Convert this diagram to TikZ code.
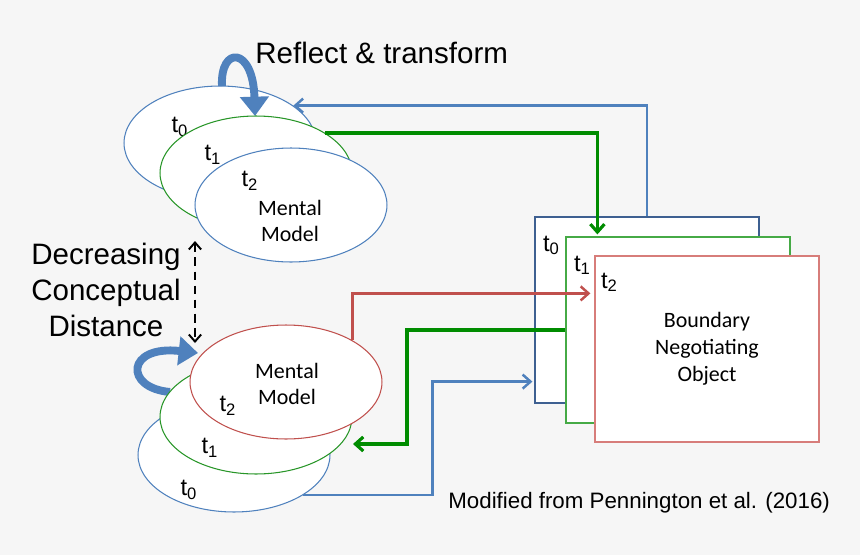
\documentclass[tikz,border=0pt]{standalone}
\usepackage{fontspec}
\setmainfont{Liberation Sans}
\newfontfamily\calibri{Carlito}
\usetikzlibrary{arrows.meta,calc,shapes.geometric,positioning,shadows}
\definecolor{bgGray}{RGB}{246,246,246}
\definecolor{offBlue}{RGB}{79,129,189}
\definecolor{boxBlue}{RGB}{62,96,145}
\definecolor{ellGreen}{RGB}{40,150,40}
\definecolor{arrGreen}{RGB}{0,140,0}
\definecolor{boxGreen}{RGB}{70,170,70}
\definecolor{offRed}{RGB}{192,80,77}
\definecolor{boxRed}{RGB}{215,125,122}
\tikzset{
    every node/.style={inner sep=0mm},
    mm/.style={ellipse, draw, fill=white, line width=0.6pt, minimum width=3.84cm, minimum height=2.28cm},
    bno/.style={rectangle, draw, fill=white, line width=0.7pt, minimum width=4.48cm, minimum height=3.72cm,
        drop shadow={shadow xshift=0.6pt, shadow yshift=-0.6pt, opacity=0.25}},
    tlab/.style={font=\fontsize{13.5}{15}\selectfont},
    mmtext/.style={align=center, font=\calibri\fontsize{12.5}{15.3}\selectfont},
    big/.style={align=center, font=\fontsize{16.8}{20.4}\selectfont},
    flow/.style={-{Straight Barb[length=4.5pt,width=8pt]}, line width=1.4pt},
    loopy/.style={-{Triangle[length=11pt,width=16pt]}, line width=4.5pt, draw=offBlue},
}

\begin{document}
\begin{tikzpicture}[x=0.02cm, y=-0.02cm]
    \fill[bgGray] (0,0) rectangle (860,555);
    \useasboundingbox (0,0) rectangle (860,555);

    \node[big, anchor=base west] (title) at (255,63) {Reflect \& transform};
    \node[big] (dist) at (106,290) {Decreasing\\Conceptual\\Distance};
    \node[font=\fontsize{12.7}{15}\selectfont, anchor=base west] (src) at (448,508) {Modified from Pennington et al. (2016)};

    % upper stack
    \node[mm, draw=offBlue] (up0) at (220,143) {};
    \node[tlab] (up0t) at (180,127) {t\textsubscript{0}};
    \coordinate (rfA) at (222,86);
    \coordinate (rfB) at (255,116);
    \draw[loopy] (rfA) .. controls (220,46) and (253,46) .. (rfB);
    \node[mm, draw=ellGreen] (up1) at (256,173) {};
    \node[tlab] (up1t) at (213,155) {t\textsubscript{1}};
    \node[mm, draw=offBlue] (up2) at (291,205) {};
    \node[tlab] (up2t) at (250,181) {t\textsubscript{2}};
    \node[mmtext] (up2m) at (290,221) {Mental\\Model};

    % lower stack
    \node[mm, draw=offBlue] (lo0) at (234,455) {};
    \node[tlab] (lo0t) at (189,490) {t\textsubscript{0}};
    \coordinate (rfC) at (170,392);
    \coordinate (rfD) at (198,353);
    \draw[loopy] (rfC) .. controls (124,388) and (126,345) .. (rfD);
    \node[mm, draw=ellGreen] (lo1) at (256,417) {};
    \node[tlab] (lo1t) at (210,448) {t\textsubscript{1}};
    \node[mm, draw=offRed] (lo2) at (286,382) {};
    \node[tlab] (lo2t) at (228,406) {t\textsubscript{2}};
    \node[mmtext] (lo2m) at (287,384) {Mental\\Model};

    % boundary negotiating objects
    \node[bno, draw=boxBlue] (bno0) at (647,310) {};
    \node[tlab] (bno0t) at ($(bno0.north west)+(17,29)$) {t\textsubscript{0}};
    \node[bno, draw=boxGreen] (bno1) at (678,330) {};
    \node[tlab] (bno1t) at ($(bno1.north west)+(17,29)$) {t\textsubscript{1}};
    \node[bno, draw=boxRed, mmtext] (bno2) at (707,349) {Boundary\\Negotiating\\Object};
    \node[tlab] (bno2t) at ($(bno2.north west)+(15,27)$) {t\textsubscript{2}};

    \draw[flow, draw=offBlue] (bno0.north) |- (up0.27);
    \draw[flow, draw=arrGreen, line width=1.8pt] (up1.30) -| ($(bno1.north west)+(32,-2)$);
    \draw[flow, draw=offRed] (lo2.32) |- ($(bno2.north west)+(-4,38)$);
    \coordinate (gEnd) at (353,444);
    \draw[flow, draw=arrGreen, line width=1.8pt] (bno1.west) -| ($(gEnd)+(54,0)$) -- (gEnd);
    \coordinate (bEnd) at ($(bno0.south west)+(-2,-22)$);
    \draw[flow, draw=offBlue] (lo0.-30) -| ($(bEnd)+(-100,0)$) -- (bEnd);

    \coordinate (dTop) at (195,241);
    \coordinate (dBot) at (195,343);
    \draw[{Straight Barb[length=4pt,width=7pt]}-{Straight Barb[length=4pt,width=7pt]}, line width=1.1pt,
        dash pattern=on 5pt off 3pt] (dTop) -- (dBot);
\end{tikzpicture}
\end{document}
